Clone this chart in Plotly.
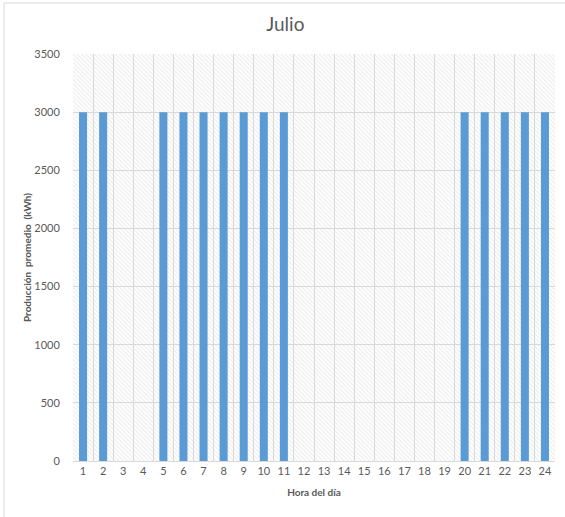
import plotly.graph_objects as go

hours = list(range(1, 25))
production = [3000, 3000, 0, 0, 3000, 3000, 3000, 3000, 3000, 3000, 3000, 0,
              0, 0, 0, 0, 0, 0, 0, 3000, 3000, 3000, 3000, 3000]
y_max = 3500
y_ticks = [0, 500, 1000, 1500, 2000, 2500, 3000, 3500]

FONT = "Lato, 'Liberation Sans', sans-serif"
GRAY = "#595959"
GRID = "#d9d9d9"

W, H = 565, 517
L, R, T, B = 73, 10, 54, 56
PW, PH = W - L - R, H - T - B

fig = go.Figure()

# hatched plot-area background
fig.add_trace(go.Bar(
    x=hours, y=[y_max] * len(hours), width=1,
    marker=dict(color="rgba(255,255,255,0)", line=dict(width=0),
                pattern=dict(shape="\\", fgcolor="#d6d6d6", bgcolor="rgba(255,255,255,0)",
                             size=3, solidity=0.35, fillmode="overlay")),
    hoverinfo="skip", showlegend=False,
))

fig.add_trace(go.Bar(
    x=hours, y=production, width=0.4,
    marker=dict(color="#5b9bd5", line=dict(width=0)),
    showlegend=False,
))

fx = (4 - L) / PW
fy = 1 + (T - 3) / PH

fig.update_layout(
    width=W, height=H,
    margin=dict(l=L, r=R, t=T, b=B),
    paper_bgcolor="white", plot_bgcolor="white",
    barmode="overlay",
    font=dict(family=FONT, color=GRAY),
    title=dict(text="Julio", x=0.505, xanchor="center", y=1 - 24 / H, yanchor="middle",
               font=dict(family=FONT, size=19, color=GRAY)),
    xaxis=dict(
        range=[0.5, 24.5], tickmode="array", tickvals=hours, ticktext=[str(h) for h in hours],
        showgrid=False, zeroline=False, showline=True, linecolor=GRID, linewidth=1,
        ticks="", tickfont=dict(size=11, color=GRAY),
        minor=dict(tick0=0.5, dtick=1, showgrid=True, gridcolor=GRID, gridwidth=1, ticks=""),
        title=dict(text="<b>Hora del día</b>", font=dict(size=10, color=GRAY), standoff=12),
    ),
    yaxis=dict(
        range=[0, y_max], tickmode="array", tickvals=y_ticks,
        showgrid=True, gridcolor=GRID, gridwidth=1, zeroline=False, showline=False,
        ticks="outside", ticklen=10, tickcolor="rgba(0,0,0,0)",
        tickfont=dict(size=11, color=GRAY),
        title=dict(text="<b>Producción  promedio  (kWh)</b>", font=dict(size=10, color=GRAY), standoff=0),
    ),
    shapes=[
        dict(type="line", xref="paper", yref="paper", x0=fx, x1=fx, y0=-1, y1=fy,
             line=dict(color=GRID, width=1)),
        dict(type="line", xref="paper", yref="paper", x0=fx, x1=1.5, y0=fy, y1=fy,
             line=dict(color=GRID, width=1)),
    ],
)

fig.write_html("out.html", config={"displayModeBar": False},
               post_script="document.body.style.margin='0';document.body.style.overflow='hidden';")
